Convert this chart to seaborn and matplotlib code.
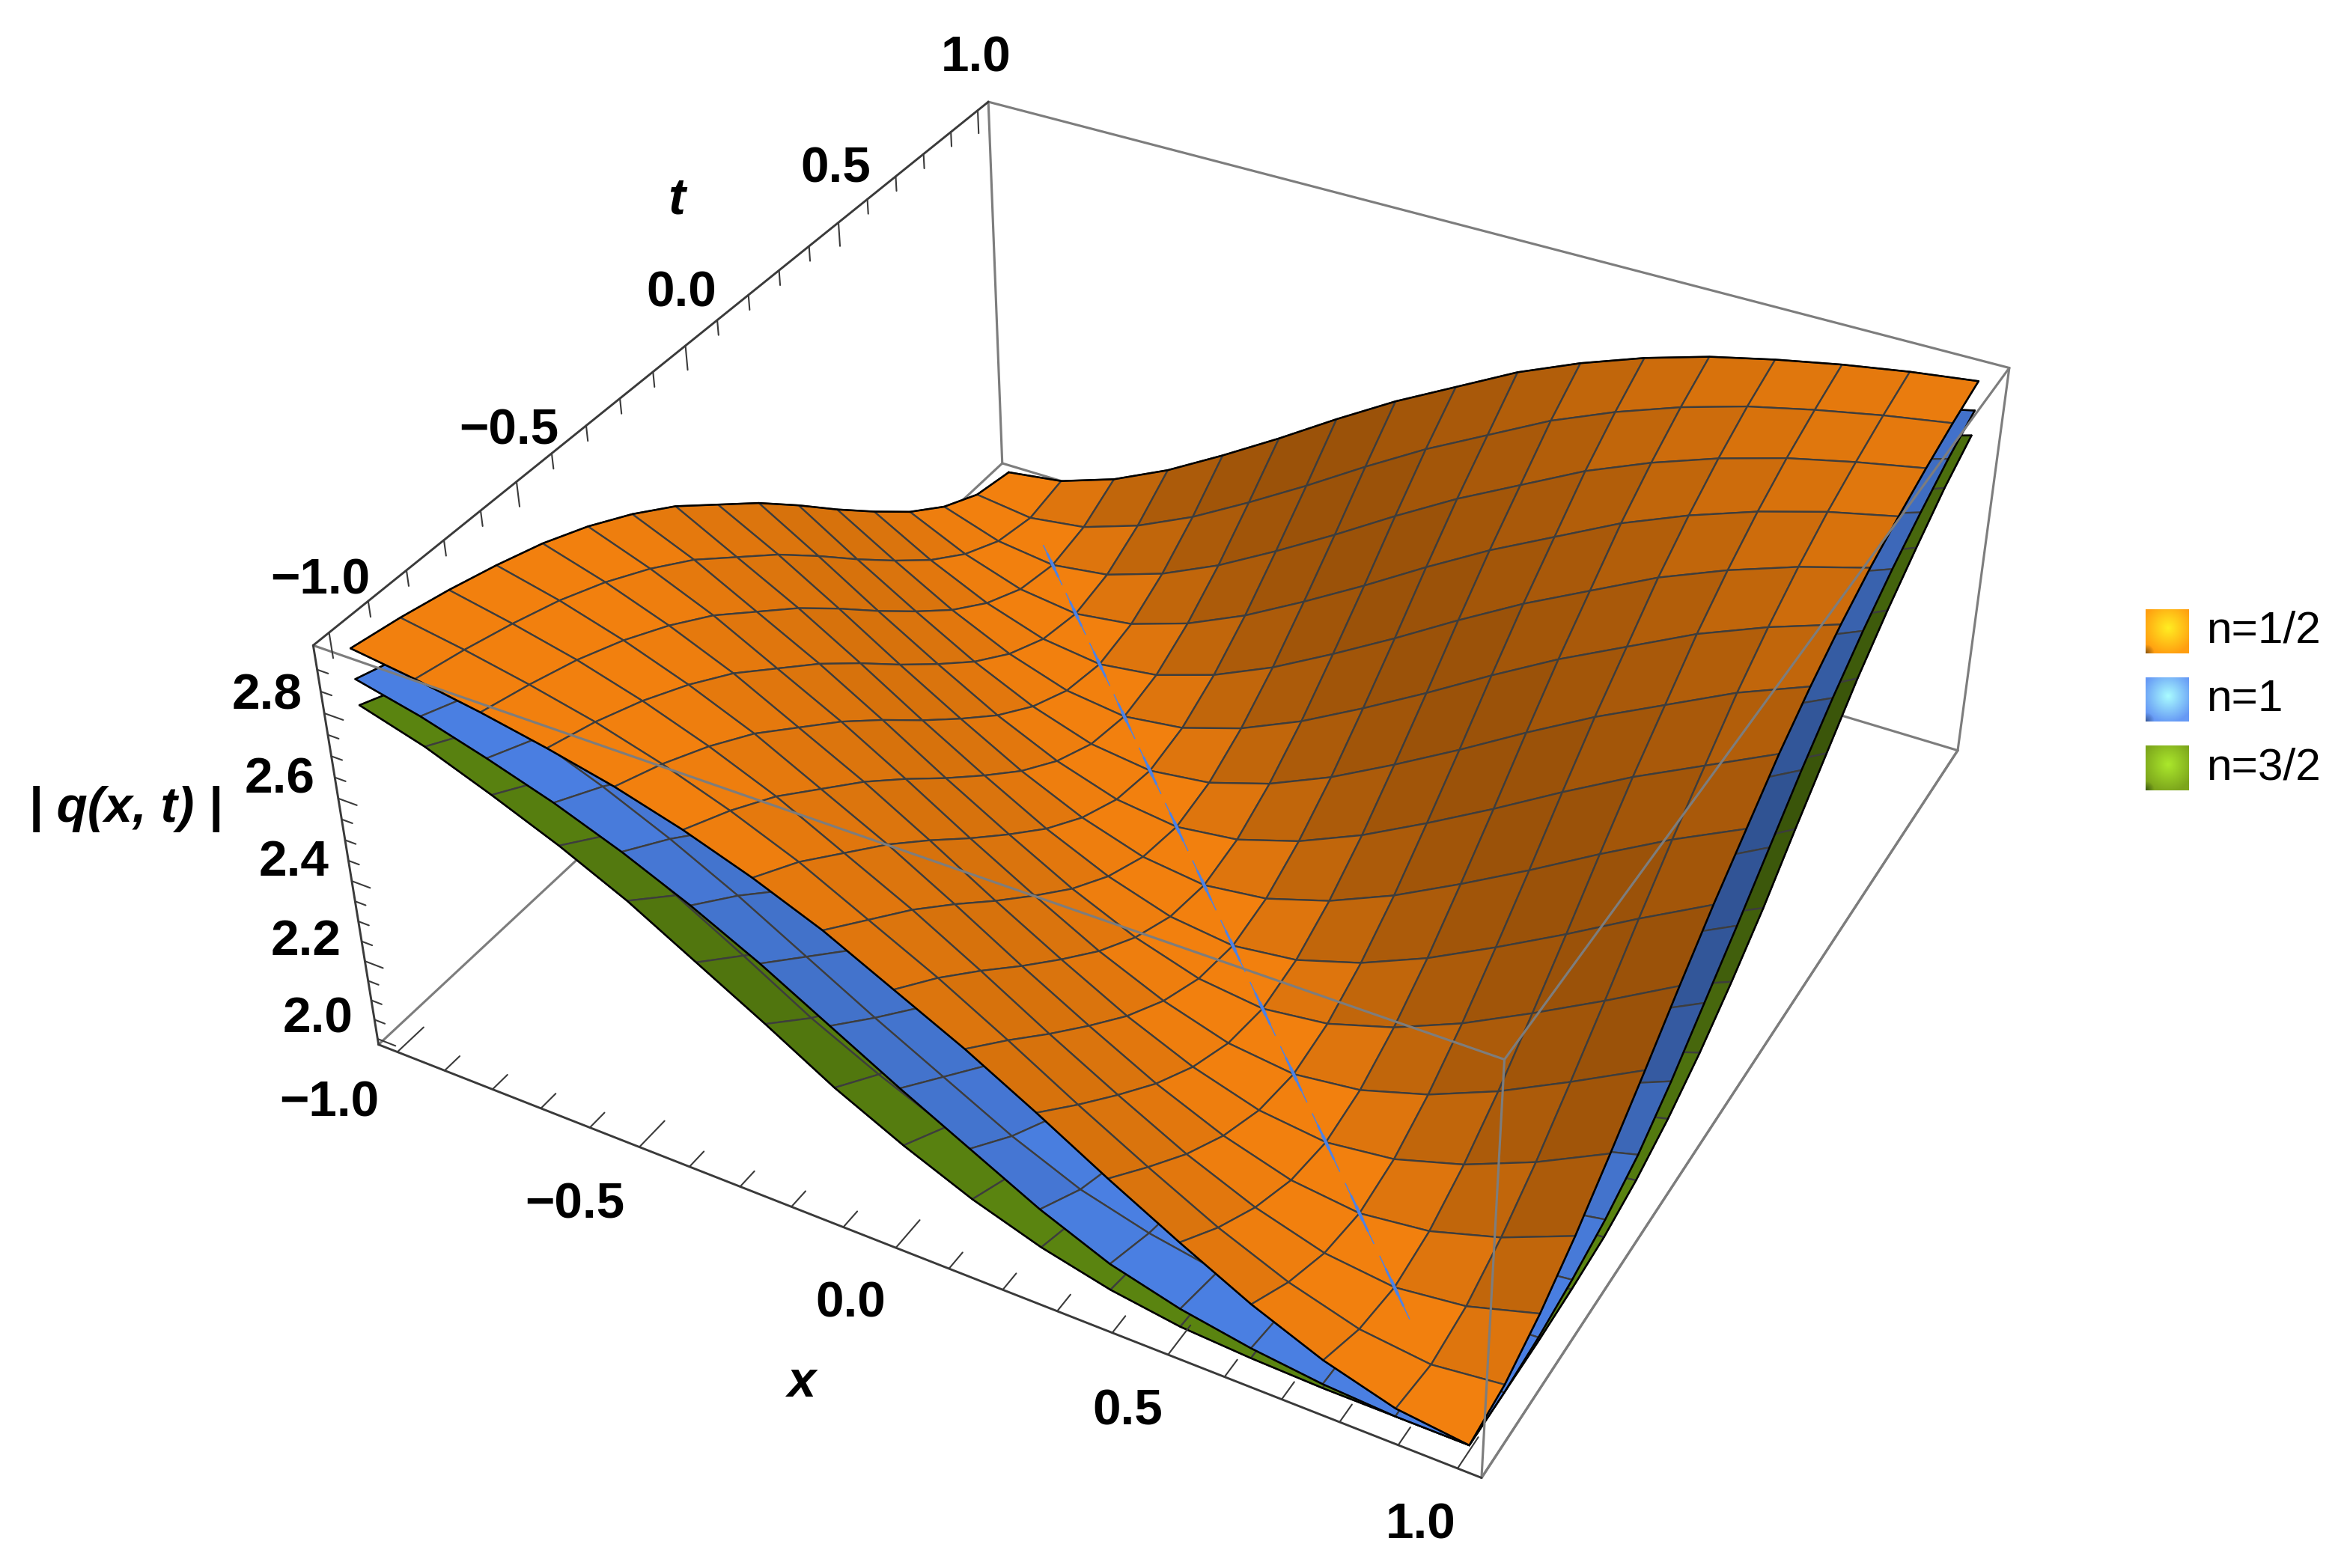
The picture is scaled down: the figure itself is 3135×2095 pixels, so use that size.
import numpy as np
import matplotlib
matplotlib.use('Agg')
import matplotlib.pyplot as plt
import seaborn as sns

W, H = 3135, 2095
DPI = 300

# |q|, by mesh steps away from the x + t = 0 valley (16 cells a side)
q_half = [2.00, 2.02, 2.07, 2.14, 2.225, 2.315, 2.41, 2.50, 2.58, 2.66, 2.725, 2.78, 2.825, 2.86, 2.89, 2.915, 2.935]
q_one = [2.00, 2.00, 2.01, 2.03, 2.06, 2.105, 2.175, 2.26, 2.345, 2.435, 2.525, 2.605, 2.675, 2.735, 2.785, 2.83, 2.865]
q_three_half = [2.00, 2.00, 2.00, 2.005, 2.015, 2.04, 2.08, 2.135, 2.205, 2.285, 2.38, 2.47, 2.56, 2.635, 2.70, 2.76, 2.805]

n_labels = ['n=1/2', 'n=1', 'n=3/2']
x_major = [-1.0, -0.5, 0.0, 0.5, 1.0]
t_major = [-1.0, -0.5, 0.0, 0.5, 1.0]
z_major = [2.0, 2.2, 2.4, 2.6, 2.8]
x_lim = (-1.04, 1.04)
t_lim = (-1.04, 1.04)
z_lim = (1.985, 2.955)

sns.set_theme(style='white')
plt.rcParams['font.family'] = ['Liberation Sans', 'DejaVu Sans']
surf_colors = sns.color_palette(['#F2800E', '#4A7FE2', '#5A8410'])

fig = plt.figure(figsize=(W / DPI, H / DPI), dpi=DPI)

# view fitted to the eight box corners
size = 2292.5
ax = fig.add_axes([430.4 / W, (H - 2115.5) / H, size / W, size / H], projection='3d')
ax.set_xlim(*x_lim)
ax.set_ylim(*t_lim)
ax.set_zlim(*z_lim)
ax.view_init(36.283, -61.2974, 0.2032)
ax.set_proj_type('persp', focal_length=0.4352)
ax.set_box_aspect((1, 0.996, 0.4022))
ax.set_axis_off()
ax.patch.set_alpha(0)
ax.computed_zorder = False

xs = np.linspace(-1, 1, 17)
ts = np.linspace(-1, 1, 17)
X, T = np.meshgrid(xs, ts, indexing='ij')
ii, jj = np.meshgrid(np.arange(17), np.arange(17), indexing='ij')
steps = np.abs(ii + jj - 16)


def facet_colors(Z, base, dark_side=0.13, top=1.03):
    # one flat light per cell, from the tilt of the cell inside the box
    zx = (Z[1:, :-1] + Z[1:, 1:] - Z[:-1, :-1] - Z[:-1, 1:]) / 2
    zt = (Z[:-1, 1:] + Z[1:, 1:] - Z[:-1, :-1] - Z[1:, :-1]) / 2
    k = 0.4022 / (z_lim[1] - z_lim[0]) * 2.08 / (xs[1] - xs[0])
    sx, st = zx * k, zt * k
    light = (top - dark_side * (sx + st)) / np.sqrt(1 + sx ** 2 + st ** 2)
    light = np.clip(light, 0.5, 1.0)
    return np.clip(np.array(base)[None, None, :] * light[..., None], 0, 1)


for vals, col, zo in zip([q_three_half, q_one, q_half], surf_colors[::-1], [2, 3, 4]):
    Z = np.array(vals)[steps]
    surf = ax.plot_surface(X, T, Z, facecolors=facet_colors(Z, col), shade=False,
                           rcount=17, ccount=17, zorder=zo, antialiased=True)
    surf.set_edgecolor('#3d3d3d')
    surf.set_linewidth(0.55)
    # black outline of the sheet
    ax.plot(xs, ts * 0 - 1, Z[:, 0], color='black', lw=0.6, zorder=zo + 0.1)
    ax.plot(xs * 0 + 1, ts, Z[-1, :], color='black', lw=0.6, zorder=zo + 0.1)
    ax.plot(xs, ts * 0 + 1, Z[:, -1], color='black', lw=0.6, zorder=zo + 0.1)
    ax.plot(xs * 0 - 1, ts, Z[0, :], color='black', lw=0.6, zorder=zo + 0.1)

# blue sheet showing through along the valley
cell = xs[1] - xs[0]
for node in range(2, 15):
    xn = xs[node]
    tn = -xn
    for reach, width in [(0.42, 0.35), (0.25, 0.7), (0.1, 1.0)]:
        h = cell * reach
        ax.plot([xn - h, xn + h], [tn + h, tn - h], [q_one[0], q_one[0]], color='#4C82E6',
                lw=width, zorder=5, solid_capstyle='butt')

# box
x0, x1 = x_lim
t0, t1 = t_lim
z0, z1 = z_lim
grey = '#7d7d7d'
ink = '#3a3a3a'
back = [((x0, t0, z0), (x0, t1, z0)), ((x0, t1, z0), (x1, t1, z0)), ((x1, t1, z0), (x1, t0, z0)),
        ((x0, t1, z0), (x0, t1, z1)), ((x0, t1, z1), (x1, t1, z1)), ((x1, t1, z0), (x1, t1, z1))]
front = [((x0, t0, z1), (x1, t0, z1)), ((x1, t0, z1), (x1, t1, z1)), ((x1, t0, z0), (x1, t0, z1)),
         ((x1, t0, z0), (x1, t1, z0))]
axes_lines = [((x0, t0, z0), (x1, t0, z0)), ((x0, t0, z1), (x0, t1, z1)), ((x0, t0, z0), (x0, t0, z1))]
for a, b in back:
    ax.plot(*zip(a, b), color=grey, lw=0.75, zorder=1, clip_on=False)
for a, b in front:
    ax.plot(*zip(a, b), color=grey, lw=0.75, zorder=6, clip_on=False)
for a, b in axes_lines:
    ax.plot(*zip(a, b), color=ink, lw=0.7, zorder=7, clip_on=False)

# ticks
for v in np.arange(-10, 11) / 10:
    big = abs(v * 2 - round(v * 2)) < 1e-6
    ln = 0.073 if big else 0.042
    ax.plot([v, v], [t0, t0 + ln], [z0, z0], color=ink, lw=0.5, zorder=7)
    ln = 0.058 if big else 0.036
    ax.plot([x0, x0], [v, v], [z1, z1 - ln], color=ink, lw=0.5, zorder=7, clip_on=False)
for v in np.arange(40, 59) * 0.05:
    big = abs(v * 5 - round(v * 5)) < 1e-6
    ln = 0.038 if big else 0.022
    ax.plot([x0, x0 + ln], [t0, t0], [v, v], color=ink, lw=0.5, zorder=7, clip_on=False)


def px_text(px, py, s, **kw):
    fig.text(px / W, 1 - py / H, s, ha='center', va='center', color='black', **kw)


def tick_str(v):
    return f'{v:.1f}'.replace('-', '\u2212')


x_pos = [(440, 1474), (768, 1610), (1136, 1742), (1506, 1886), (1898, 2039)]
t_pos = [(428, 777), (680, 577), (910, 393), (1116, 227), (1304, 79)]
z_pos = [(425, 1362), (409, 1259), (393, 1153), (374, 1042), (357, 930)]
for v, p in zip(x_major, x_pos):
    px_text(*p, tick_str(v), fontsize=16.2, fontweight='bold')
for v, p in zip(t_major, t_pos):
    px_text(*p, tick_str(v), fontsize=16.2, fontweight='bold')
for v, p in zip(z_major, z_pos):
    px_text(*p, tick_str(v), fontsize=16.2, fontweight='bold')
px_text(1070, 1848, 'x', fontsize=16.5, fontweight='bold', fontstyle='italic')
px_text(904, 268, 't', fontsize=16.5, fontweight='bold', fontstyle='italic')
px_text(167, 1081, '| q(x, t) |', fontsize=16.2, fontweight='bold', fontstyle='italic')

# legend swatches
swatches = [('#FFEE22', '#FF9E10', '#8A5510'), ('#A9FCFF', '#6699F5', '#3A5A9A'), ('#ABE82C', '#7CA51C', '#3C5A10')]
boxes = [(2866, 814, 58, 59), (2866, 905, 58, 59), (2866, 996, 58, 60)]
text_y = [843, 935, 1026]
u, v = np.meshgrid(np.linspace(0, 1, 58), np.linspace(0, 1, 59))
for (c_mid, c_edge, c_dark), (bx, by, bw, bh), ty, lab in zip(swatches, boxes, text_y, n_labels):
    sw = fig.add_axes([bx / W, 1 - (by + bh) / H, bw / W, bh / H])
    r = np.clip(np.hypot(u - 0.52, v - 0.42) / 0.62, 0, 1)[..., None]
    corner = np.clip((0.2 - np.hypot(u, 1 - v)) / 0.2, 0, 1)[..., None]
    mid, edge, dark = [np.array(matplotlib.colors.to_rgb(c)) for c in (c_mid, c_edge, c_dark)]
    img = mid * (1 - r) + edge * r
    img = img * (1 - corner) + dark * corner
    sw.imshow(img, aspect='auto', interpolation='bilinear')
    sw.axis('off')
    fig.text(2947 / W, 1 - ty / H, lab, ha='left', va='center', fontsize=14.5, color='black')

fig.savefig('out.png', dpi=DPI, facecolor='white')
